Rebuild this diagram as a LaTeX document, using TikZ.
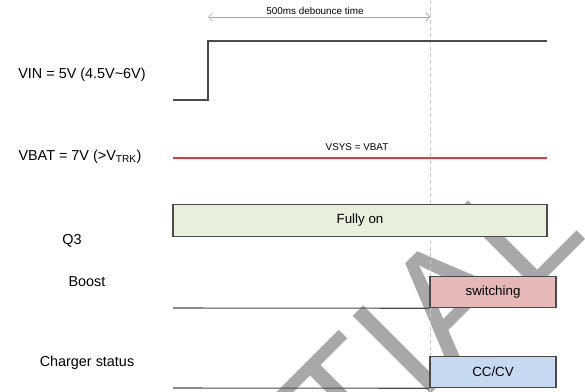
\documentclass[tikz,border=0pt]{standalone}
\usepackage{fontspec}
\setmainfont{Liberation Sans}
\usetikzlibrary{arrows.meta,positioning}

\definecolor{sig}{HTML}{4A4A4A}
\definecolor{vbatred}{HTML}{E0393E}
\definecolor{q3green}{HTML}{E8F0DC}
\definecolor{boostpink}{HTML}{E6B8B7}
\definecolor{chgblue}{HTML}{C6D9F0}
\definecolor{wmgray}{HTML}{A8A8A8}

\begin{document}
\begin{tikzpicture}[x=0.75pt, y=-0.75pt,
    siglabel/.style={font=\fontsize{10.8}{13}\selectfont},
    note/.style={font=\fontsize{7.4}{9}\selectfont},
    wave/.style={draw=sig, line width=0.8pt},
    statebox/.style={draw=sig, line width=0.8pt, font=\fontsize{10}{12}\selectfont,
        minimum height=23.6pt, inner sep=0pt},
    wmark/.style={text=wmgray, font=\fontsize{120}{120}\selectfont}]
    \useasboundingbox (0,0) rectangle (585,392);

    % Watermark
    \begin{scope}
        \clip (0,0) rectangle (585,392);
        \node[wmark, rotate=45, anchor=base] (wm) at (175,650) {CONFIDENTIAL};
    \end{scope}

    % Debounce marker
    \coordinate (dbL) at (208,17);
    \coordinate (dbR) at (430,17);
    \coordinate (mkTop) at (430,0);
    \coordinate (mkBot) at (430,392);
    \draw[gray!40, densely dashed, line width=0.5pt] (mkTop) -- (mkBot);
    \draw[gray!70, line width=0.5pt, {Straight Barb[length=3pt]}-{Straight Barb[length=3pt]}] (dbL) -- (dbR);
    \node[note] (dblabel) at (315,11) {500ms debounce time};

    % Signal names
    \node[siglabel] (vin) at (82,75) {VIN = 5V (4.5V\textasciitilde 6V)};
    \node[siglabel] (vbat) at (80,157) {VBAT = 7V (>V\textsubscript{TRK})};
    \node[siglabel] (q3) at (72,241) {Q3};
    \node[siglabel] (boost) at (87,282) {Boost};
    \node[siglabel] (chg) at (87,363) {Charger status};

    % VIN waveform
    \coordinate (vinLo) at (173,100);
    \coordinate (vinUp) at (208,41);
    \coordinate (vinEnd) at (547,41);
    \draw[wave] (vinLo) -| (vinUp) -- (vinEnd);

    % VBAT level
    \coordinate (vbatL) at (173,158);
    \coordinate (vbatR) at (547,158);
    \draw[vbatred, line width=0.8pt] (vbatL) -- (vbatR);
    \node[note] (vsys) at (357,147) {VSYS = VBAT};

    % Q3 state
    \node[statebox, fill=q3green, minimum width=280.5pt] (q3on) at (360,220.5) {Fully on};

    % Boost state
    \node[statebox, fill=boostpink, minimum width=94.5pt] (sw) at (493,292) {switching};
    \coordinate (boostL) at (173,308);
    \draw[wave] (boostL) -- (sw.south west);

    % Charger state
    \node[statebox, fill=chgblue, minimum width=94.5pt] (cccv) at (493,372) {CC/CV};
    \coordinate (chgL) at (173,388);
    \draw[wave] (chgL) -- (cccv.south west);
\end{tikzpicture}
\end{document}
